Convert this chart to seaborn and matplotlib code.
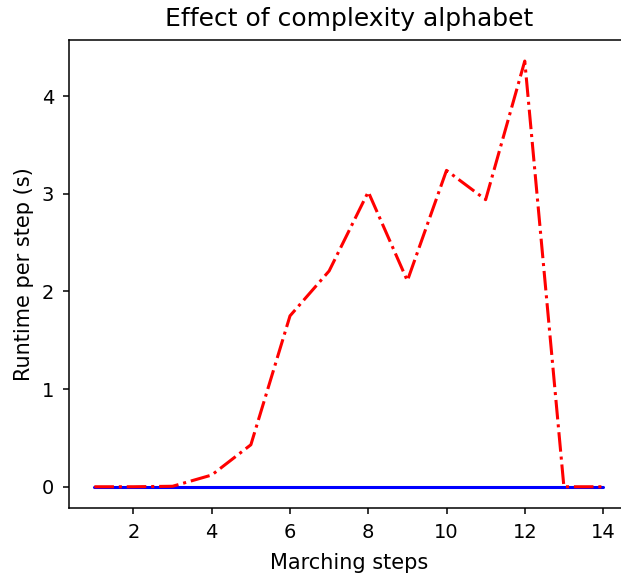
import numpy as np
import pandas as pd
import seaborn as sns
import matplotlib
matplotlib.use("Agg")
from matplotlib import pyplot as plt

sns.set_style("ticks")
plt.rcParams['font.family'] = ['DejaVu Sans']

# 数据
steps = [1, 2, 3, 4, 5, 6, 7, 8, 9, 10, 11, 12, 13, 14]
runtime_red = [0.0, 0.0, 0.005, 0.12, 0.43, 1.75, 2.21, 3.02, 2.11, 3.24, 2.94, 4.36, 0.0, 0.0]
runtime_blue = [0.0, 0.0, 0.0, 0.0, 0.0, 0.0, 0.0, 0.0, 0.0, 0.0, 0.0, 0.0, 0.0, 0.0]

df = pd.DataFrame({'step': steps, 'red': runtime_red, 'blue': runtime_blue})

fig, ax = plt.subplots(figsize=(6.21, 5.76), dpi=100)
sns.lineplot(data=df, x='step', y='blue', color='blue', linewidth=2.2, ax=ax)
sns.lineplot(data=df, x='step', y='red', color='red', linewidth=2.2, linestyle='-.', ax=ax)

for s in ax.spines.values():
    s.set_color('black')
    s.set_linewidth(1.1)
ax.tick_params(labelsize=14, colors='black', length=4.5, width=1.1, pad=6)
ax.set_xticks([2, 4, 6, 8, 10, 12, 14])
ax.set_yticks([0, 1, 2, 3, 4])
ax.set_title("Effect of complexity alphabet", fontsize=18, color='black', pad=10)
ax.set_xlabel("Marching steps", fontsize=15, color='black', labelpad=8)
ax.set_ylabel("Runtime per step (s)", fontsize=15, color='black', labelpad=6)

plt.subplots_adjust(left=0.111, right=1.012, top=0.931, bottom=0.118)
plt.savefig("out.png", dpi=100)
